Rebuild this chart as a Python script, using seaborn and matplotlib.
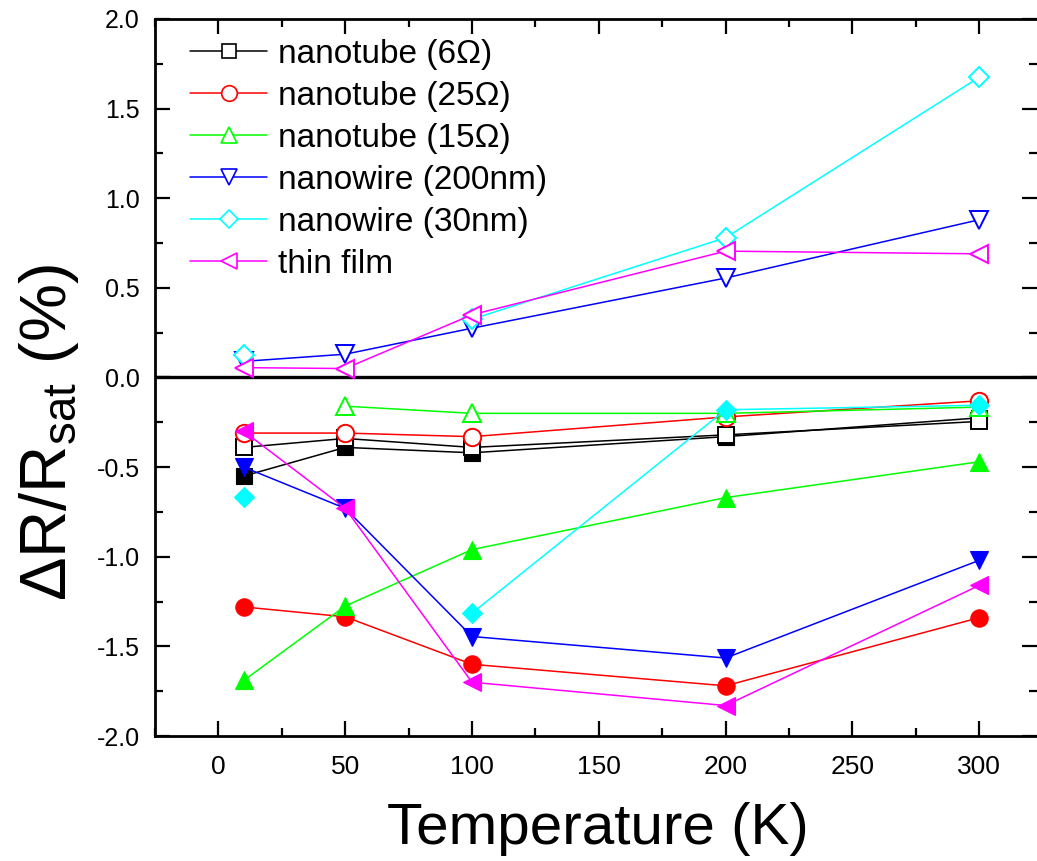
import numpy as np
import pandas as pd
import matplotlib
matplotlib.use("Agg")
import matplotlib.pyplot as plt
import seaborn as sns
from matplotlib import font_manager as fm
from matplotlib.lines import Line2D
from matplotlib.ticker import MultipleLocator

# ---------------- data ----------------
temperature = [10, 50, 100, 200, 300]
labels = ["nanotube (6Ω)", "nanotube (25Ω)", "nanotube (15Ω)",
          "nanowire (200nm)", "nanowire (30nm)", "thin film"]
colors = ["#000000", "#ff0000", "#00ff00", "#0000ff", "#00ffff", "#ff00ff"]
markers = ["s", "o", "^", "v", "D", "<"]
nan = np.nan

# open symbols (legend series)
open_6ohm = [-0.39, -0.34, -0.39, -0.32, -0.245]
open_25ohm = [-0.31, -0.31, -0.33, -0.22, -0.13]
open_15ohm = [nan, -0.16, -0.20, -0.20, -0.165]
open_200nm = [0.09, 0.13, 0.275, 0.555, 0.88]
open_30nm = [0.125, nan, 0.325, 0.78, 1.675]
open_film = [0.055, 0.05, 0.35, 0.705, 0.69]

# filled symbols
filled_6ohm = [-0.55, -0.39, -0.42, -0.33, -0.225]
filled_25ohm = [-1.28, -1.335, -1.60, -1.72, -1.34]
filled_15ohm = [-1.69, -1.275, -0.96, -0.67, -0.47]
filled_200nm = [-0.50, -0.73, -1.445, -1.565, -1.02]
filled_30nm = [-0.665, nan, -1.315, -0.18, -0.155]
filled_film = [-0.30, -0.73, -1.70, -1.83, -1.16]

open_series = [open_6ohm, open_25ohm, open_15ohm, open_200nm, open_30nm, open_film]
filled_series = [filled_6ohm, filled_25ohm, filled_15ohm, filled_200nm, filled_30nm, filled_film]

# ---------------- style ----------------
sns.set_theme(style="white")
plt.rcParams["font.family"] = ["Liberation Sans", "DejaVu Sans"]
plt.rcParams["mathtext.fontset"] = "custom"
plt.rcParams["mathtext.rm"] = "Liberation Sans"
plt.rcParams["mathtext.it"] = "Liberation Sans:italic"
for key in ["text.color", "axes.labelcolor", "xtick.color", "ytick.color", "axes.edgecolor"]:
    plt.rcParams[key] = "black"


def pick_narrow():
    for fam in ["Liberation Sans Narrow", "Arial Narrow", "Nimbus Sans Narrow"]:
        try:
            fm.findfont(fm.FontProperties(family=fam), fallback_to_default=False)
            return fam
        except Exception:
            pass
    return "Liberation Sans"


narrow = pick_narrow()

marker_size = {"s": 11.5, "o": 12.5, "^": 13.5, "v": 13.5, "D": 10.5, "<": 13.5}

fig = plt.figure(figsize=(10.37, 8.61), dpi=100)
ax = fig.add_axes([155 / 1037, 1 - 736 / 861, (1037 - 155) / 1037, (736 - 19) / 861])

ax.axhline(0, color="black", lw=2.4, zorder=1.5)


def draw(values, color, marker, filled):
    df = pd.DataFrame({"T": temperature, "v": values})
    df["seg"] = df["v"].isna().cumsum()
    df = df.dropna()
    for _, g in df.groupby("seg"):
        sns.lineplot(data=g, x="T", y="v", ax=ax, color=color, linewidth=1.1,
                     marker=marker, markersize=marker_size[marker],
                     markerfacecolor=color if filled else "white",
                     markeredgecolor=color,
                     markeredgewidth=0.8 if filled else 1.4,
                     legend=False, estimator=None, sort=False)


for vals_f, vals_o, c, m in zip(filled_series, open_series, colors, markers):
    draw(vals_f, c, m, True)
    draw(vals_o, c, m, False)

ax.set_xlim(-25, 322.8)
ax.set_ylim(-2.0, 2.0)
ax.xaxis.set_major_locator(MultipleLocator(50))
ax.xaxis.set_minor_locator(MultipleLocator(25))
ax.yaxis.set_major_locator(MultipleLocator(0.5))
ax.yaxis.set_minor_locator(MultipleLocator(0.25))
ax.set_xticks([0, 50, 100, 150, 200, 250, 300])
ax.set_xticklabels(["0", "50", "100", "150", "200", "250", "300"])
ax.yaxis.set_major_formatter(matplotlib.ticker.FormatStrFormatter("%.1f"))

ax.tick_params(which="both", direction="in", top=True, right=True,
               bottom=True, left=True, color="black", width=1.6)
ax.tick_params(which="major", length=11)
ax.tick_params(which="minor", length=5.5)
ax.tick_params(axis="x", which="major", pad=14, labelsize=19)
ax.tick_params(axis="y", which="major", pad=11, labelsize=18)
for lab in ax.get_xticklabels():
    lab.set_family([narrow, "Liberation Sans"])

for side in ["left", "bottom", "top"]:
    ax.spines[side].set_linewidth(2.0)
    ax.spines[side].set_color("black")
ax.spines["right"].set_visible(False)

ax.set_xlabel("Temperature (K)", fontsize=42, family=[narrow, "Liberation Sans"])
ax.xaxis.set_label_coords(0.502, -0.092)
ax.set_ylabel(r"ΔR/R$_{\mathrm{sat}}$ (%)", fontsize=47)
ax.yaxis.set_label_coords(-0.084, 0.423)

handles = [Line2D([], [], color=c, marker=m, lw=1.1, markersize=marker_size[m] * 0.9,
                  markerfacecolor="white", markeredgecolor=c, markeredgewidth=1.2)
           for c, m in zip(colors, markers)]
leg = ax.legend(handles, labels, loc="upper left", bbox_to_anchor=(0.04, 0.972),
                frameon=False, fontsize=24, handlelength=2.3, handletextpad=0.32,
                labelspacing=0.33, borderpad=0, borderaxespad=0, numpoints=1)

fig.savefig("out.png", dpi=100)
